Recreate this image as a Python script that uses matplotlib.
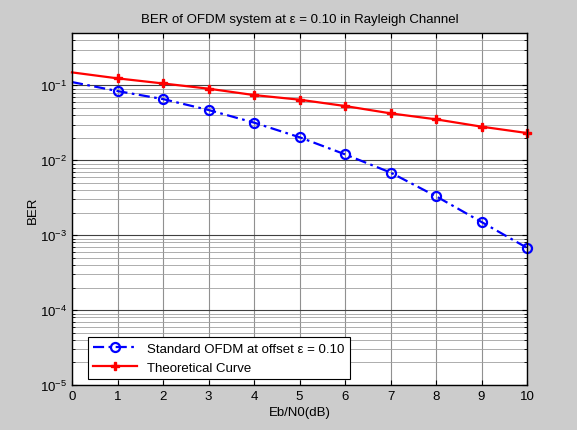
import matplotlib.pyplot as plt
import numpy as np

plt.rcParams['font.family'] = ['Liberation Sans', 'DejaVu Sans']
plt.rcParams['mathtext.fontset'] = 'custom'
plt.rcParams['mathtext.rm'] = 'Liberation Sans'
plt.rcParams['mathtext.it'] = 'Liberation Sans'
plt.rcParams['mathtext.bf'] = 'Liberation Sans'

ebn0 = [0, 1, 2, 3, 4, 5, 6, 7, 8, 9, 10]
ber_sim = [0.1107, 0.0839, 0.0656, 0.0469, 0.0318, 0.0203, 0.0120,
           0.00686, 0.00331, 0.00150, 0.000678]
ber_theory = [0.149, 0.124, 0.106, 0.0903, 0.0742, 0.0644, 0.0530,
              0.0423, 0.0352, 0.0281, 0.0231]

fig = plt.figure(figsize=(5.77, 4.31), dpi=100, facecolor='#cccccc')
ax = fig.add_axes([72/577, 1 - 386/431, 455/577, 352/431])
ax.set_facecolor('white')

ax.semilogy(ebn0, ber_sim, 'b-.o', lw=1.6, markersize=6.5, markerfacecolor='none',
            markeredgewidth=1.6, markevery=slice(1, None), clip_on=False,
            dashes=(5, 2, 1.2, 2), label='Standard OFDM at offset \u03b5 = 0.10')
ax.semilogy(ebn0, ber_theory, 'r-', marker='P', lw=1.6, markersize=6,
            markevery=slice(1, None), clip_on=False, label='Theoretical Curve')

ax.set_xlim(0, 10)
ax.set_ylim(1e-5, 0.5)
ax.set_xticks(range(11))
ax.set_yticks([1e-5, 1e-4, 1e-3, 1e-2, 1e-1])
ax.set_yticklabels([r'$10^{-5}$', r'$10^{-4}$', r'$10^{-3}$', r'$10^{-2}$', r'$10^{-1}$'])
ax.grid(True, which='major', axis='x', color='#909090', lw=0.8)
ax.grid(True, which='major', axis='y', color='#404040', lw=0.8)
ax.grid(True, which='minor', axis='y', color='#a0a0a0', lw=0.6)
ax.tick_params(which='both', direction='in', top=True, right=True, labelsize=9.5)
for s in ax.spines.values():
    s.set_linewidth(1.0)

ax.set_title('BER of OFDM system at \u03b5 = 0.10 in Rayleigh Channel', fontsize=9.5, pad=8)
ax.set_xlabel('Eb/N0(dB)', fontsize=9.5, labelpad=3)
ax.set_ylabel('BER', fontsize=9.5)
ax.yaxis.set_label_coords(-0.072, 0.5)

leg = ax.legend(loc='lower left', bbox_to_anchor=(16/455, 6/352), borderaxespad=0,
                fontsize=9.5, fancybox=False, framealpha=1, edgecolor='black',
                handlelength=3.3, labelspacing=0.5)
leg.get_frame().set_linewidth(0.8)

fig.savefig('out.png', dpi=100, facecolor=fig.get_facecolor())
